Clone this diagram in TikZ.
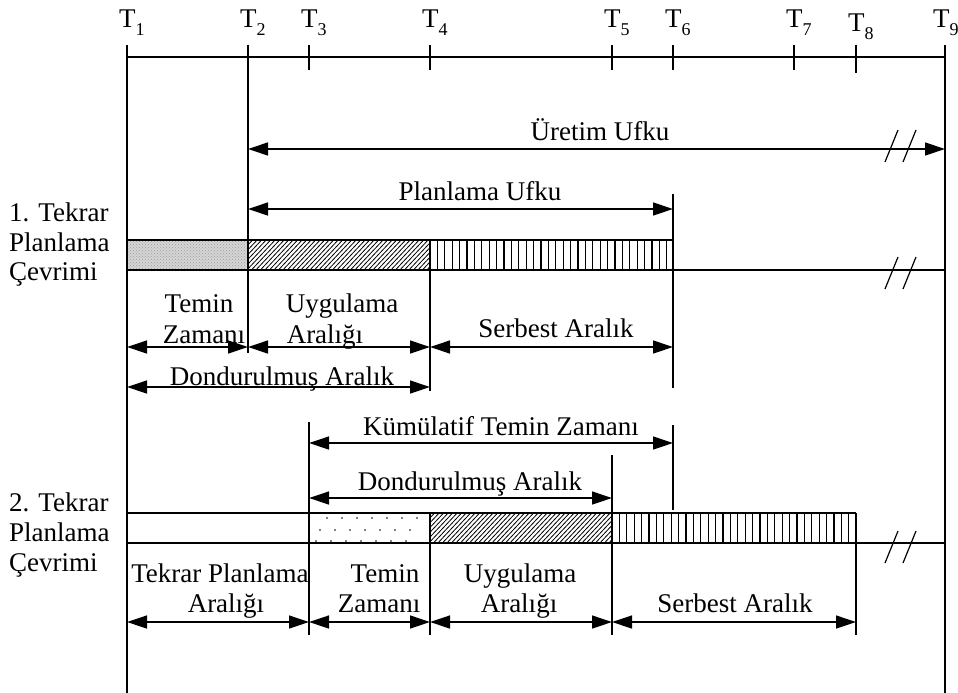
\documentclass[tikz,border=0pt]{standalone}
\usepackage{fontspec}
\setmainfont{Liberation Serif}
\usetikzlibrary{arrows.meta,patterns}
\newcommand\tlab[1]{T\raisebox{-8pt}{\fontsize{18}{18}\selectfont #1}}
\begin{document}
\begin{tikzpicture}[x=1pt,y=-1pt,
  ln/.style={line width=1.3pt},
  dim/.style={line width=1.3pt,{Triangle[length=20pt,width=13pt]}-{Triangle[length=20pt,width=13pt]}},
  lbl/.style={font=\fontsize{27}{31}\selectfont, inner sep=0pt, anchor=base},
  side/.style={font=\fontsize{27}{31}\selectfont, inner sep=0pt, anchor=base west},
  hl/.style={line width=0.8pt},
  vl/.style={line width=1.3pt},
]
\useasboundingbox (0,0) rectangle (958,693);

% tick coordinates
\foreach \n/\x in {1/127,2/248,3/309,4/430,5/612,6/673,7/794,8/856,9/945}
  \coordinate (t\n) at (\x,57);

% labels of the time axis
\foreach \n/\x/\y in {1/127/28,2/248/28,3/309/28,4/430/28,5/612/28,6/673/28,7/794/28,8/856/32,9/941/28}
  \node[side] (lt\n) at (\x-8,\y) {\tlab{\n}};

% axis
\draw[ln] (t1) -- (t9);
\foreach \n/\x in {2/248,3/309,4/430,5/612,6/673,7/794}
  \draw[ln] (\x,45) -- (\x,70);
\draw[ln] (856,45) -- (856,73);
\draw[ln] (127,45) -- (127,693);
\draw[ln] (945,45) -- (945,693);

% ---------- cycle 1 ----------
\fill[black!16] (127,240) rectangle (248,270);
\fill[pattern=crosshatch dots, pattern color=black!40] (127,240) rectangle (248,270);
\begin{scope}
  \clip (248,240) rectangle (430,270);
  \foreach \xx in {218,222.5,...,432} \draw[hl] (\xx,272) -- (\xx+32,240-2);
\end{scope}
\foreach \xx in {437.4,444.8,...,670} \draw[vl] (\xx,240) -- (\xx,270);
\draw[ln] (127,240) -- (673,240);
\draw[ln] (127,270) -- (945,270);
\draw[ln] (127,240) -- (127,270);
\draw[ln] (248,45) -- (248,353);
\draw[ln] (430,240) -- (430,391);
\draw[ln] (673,194) -- (673,388);

\coordinate (u1) at (248,149); \coordinate (u2) at (945,149);
\coordinate (p1) at (248,209); \coordinate (p2) at (673,209);
\draw[dim] (u1) -- (u2);
\draw[dim] (p1) -- (p2);
\node[lbl] (ur) at (600,140) {Üretim Ufku};
\node[lbl] (pu) at (480,200) {Planlama Ufku};

\coordinate (a1) at (127,347); \coordinate (a2) at (248,347);
\coordinate (a3) at (430,347); \coordinate (a4) at (673,347);
\draw[dim] (a1) -- (a2);
\draw[dim] (a2) -- (a3);
\draw[dim] (a3) -- (a4);
\coordinate (d1) at (127,387); \coordinate (d2) at (430,387);
\draw[dim] (d1) -- (d2);

\node[lbl] (tz1a) at (199,312) {Temin};
\node[lbl] (tz1b) at (204,343) {Zamanı};
\node[lbl] (ua1a) at (342,312) {Uygulama};
\node[lbl] (ua1b) at (325,343) {Aralığı};
\node[lbl] (sa1) at (556,337) {Serbest Aralık};
\node[lbl] (da1) at (282,385) {Dondurulmuş Aralık};

\node[side] (c1a) at (9,221) {1. Tekrar};
\node[side] (c1b) at (9,251) {Planlama};
\node[side] (c1c) at (9,280) {Çevrimi};

% ---------- cycle 2 ----------
\foreach \xx in {327,342,...,420} \fill (\xx,518) circle (0.9pt);
\foreach \xx in {320,335,...,420} \fill (\xx,530) circle (0.9pt);
\foreach \xx in {316,331,...,420} \fill (\xx,541) circle (0.9pt);
\begin{scope}
  \clip (430,513) rectangle (612,543);
  \foreach \xx in {400,404.5,...,614} \draw[hl] (\xx,545) -- (\xx+32,513-2);
\end{scope}
\foreach \xx in {619.4,626.8,...,853} \draw[vl] (\xx,513) -- (\xx,543);
\draw[ln] (127,513) -- (856,513);
\draw[ln] (127,543) -- (945,543);
\draw[ln] (309,422) -- (309,635);
\draw[ln] (430,513) -- (430,635);
\draw[ln] (612,455) -- (612,635);
\draw[ln] (856,513) -- (856,635);
\draw[ln] (673,425) -- (673,510);

\coordinate (k1) at (309,443); \coordinate (k2) at (673,443);
\coordinate (e1) at (309,498); \coordinate (e2) at (612,498);
\draw[dim] (k1) -- (k2);
\draw[dim] (e1) -- (e2);
\node[lbl] (kt) at (501,435) {Kümülatif Temin Zamanı};
\node[lbl] (da2) at (470,490) {Dondurulmuş Aralık};

\coordinate (b1) at (127,622); \coordinate (b2) at (309,622);
\coordinate (b3) at (430,622); \coordinate (b4) at (612,622);
\coordinate (b5) at (856,622);
\draw[dim] (b1) -- (b2);
\draw[dim] (b2) -- (b3);
\draw[dim] (b3) -- (b4);
\draw[dim] (b4) -- (b5);

\node[lbl] (tp2a) at (220,582) {Tekrar Planlama};
\node[lbl] (tp2b) at (226,612) {Aralığı};
\node[lbl] (tz2a) at (385,582) {Temin};
\node[lbl] (tz2b) at (379,612) {Zamanı};
\node[lbl] (ua2a) at (520,582) {Uygulama};
\node[lbl] (ua2b) at (519,612) {Aralığı};
\node[lbl] (sa2) at (735,612) {Serbest Aralık};

\node[side] (c2a) at (9,511) {2. Tekrar};
\node[side] (c2b) at (9,541) {Planlama};
\node[side] (c2c) at (9,571) {Çevrimi};

% break marks
\foreach \yy in {146,273,547}{
  \draw[line width=1.2pt] (885,\yy+16) -- (898,\yy-16);
  \draw[line width=1.2pt] (903,\yy+16) -- (916,\yy-16);
}
\end{tikzpicture}
\end{document}
